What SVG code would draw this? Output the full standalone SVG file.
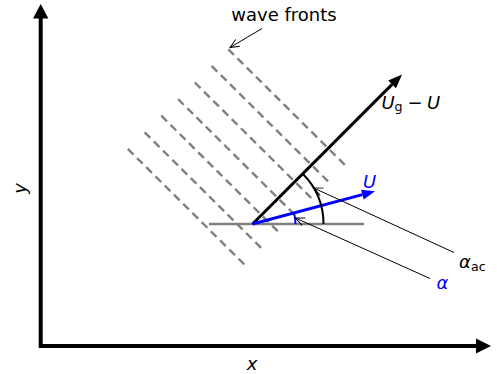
<svg xmlns="http://www.w3.org/2000/svg" width="497" height="374" viewBox="0 0 497 374">
<defs>
<style>
text{font-family:"DejaVu Sans","Liberation Sans",sans-serif;font-size:18px;fill:#000}
.it{font-style:italic}
.sub{font-size:12.6px;font-style:normal}
.blue{fill:#0000ff}
.wf{stroke:#808080;stroke-width:2.4;stroke-dasharray:8,5;fill:none}
.ann{stroke:#000;stroke-width:1;fill:none}
</style>
<marker id="open" markerUnits="userSpaceOnUse" markerWidth="14" markerHeight="12" viewBox="-11 -6 12 12" refX="0" refY="0" orient="auto">
<path d="M-9,-4 L0,0 L-9,4" fill="none" stroke="#000" stroke-width="1"/>
</marker>
</defs>
<rect width="497" height="374" fill="#fff"/>
<g id="axes">
<path d="M40.7,18 V346 H477" fill="none" stroke="#000" stroke-width="4" stroke-linejoin="miter"/>
<polygon points="40.7,4 33,18.5 48.4,18.5" fill="#000"/>
<polygon points="491,346 476,338.5 476,353.5" fill="#000"/>
<text class="it" x="252" y="370" text-anchor="middle">x</text>
<text class="it" x="0" y="0" text-anchor="middle" transform="translate(26,188.5) rotate(-90)">y</text>
</g>
<g id="baseline">
<line x1="209" y1="224" x2="364" y2="224" stroke="#808080" stroke-width="2.5"/>
</g>
<g id="ug-arrow">
<line x1="252.5" y1="224" x2="392.1" y2="84.4" stroke="#000" stroke-width="3"/>
<polygon points="402,74.5 396,88.3 388.2,80.5" fill="#000"/>
<text x="381.5" y="108.5"><tspan class="it">U</tspan><tspan class="sub" x="394.5" y="111">g</tspan><tspan x="407.5" y="108.5">−</tspan><tspan class="it" x="427">U</tspan></text>
</g>
<g id="wave-fronts">
<line class="wf" x1="228.3" y1="49.3" x2="348.3" y2="168.3"/>
<line class="wf" x1="211.6" y1="65.9" x2="331.6" y2="184.9"/>
<line class="wf" x1="194.8" y1="82.5" x2="314.8" y2="201.5"/>
<line class="wf" x1="178.1" y1="99.1" x2="298.1" y2="218.1"/>
<line class="wf" x1="161.3" y1="115.7" x2="281.3" y2="234.7"/>
<line class="wf" x1="144.6" y1="132.3" x2="264.6" y2="251.3"/>
<line class="wf" x1="127.8" y1="148.9" x2="247.8" y2="267.9"/>
<text x="284" y="20.5" text-anchor="middle">wave fronts</text>
</g>
<g id="u-arrow">
<line x1="252.5" y1="224" x2="362.4" y2="194.6" stroke="#0000ff" stroke-width="3"/>
<polygon points="375,191.2 363.7,199.4 361.1,189.7" fill="#0000ff"/>
<text class="it blue" x="363" y="188">U</text>
</g>
<g id="angle-ac">
<path d="M323.5,224 A71,71 0 0 0 302.7,173.8" fill="none" stroke="#000" stroke-width="2"/>
<text x="459" y="267.5"><tspan class="it">α</tspan><tspan class="sub" x="471" y="270.5">ac</tspan></text>
</g>
<g id="angle-alpha">
<path d="M295.5,224 A43,43 0 0 0 294,212.9" fill="none" stroke="#0000ff" stroke-width="2"/>
<text class="it blue" x="436.5" y="288.5">α</text>
</g>
<g id="connectors">
<line class="ann" x1="262" y1="28.5" x2="230" y2="47.5" marker-end="url(#open)"/>
<line class="ann" x1="454" y1="252.5" x2="313.7" y2="188" marker-end="url(#open)"/>
<line class="ann" x1="430" y1="278.5" x2="295.5" y2="218" marker-end="url(#open)"/>
</g>
</svg>
